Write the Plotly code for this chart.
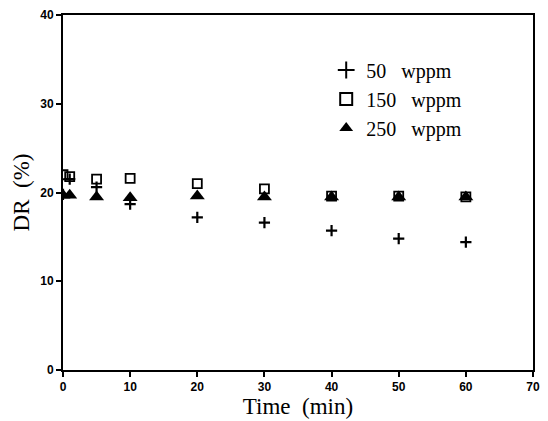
import plotly.graph_objects as go

# Drag reduction vs. time for three polymer concentrations
time_min = [0, 1, 5, 10, 20, 30, 40, 50, 60]
dr_50 = [19.8, 21.5, 20.6, 18.7, 17.2, 16.6, 15.7, 14.8, 14.4]
dr_150 = [22.0, 21.8, 21.5, 21.6, 21.0, 20.4, 19.6, 19.6, 19.5]
dr_250 = [19.7, 19.7, 19.5, 19.4, 19.6, 19.5, 19.5, 19.5, 19.5]

labels = ["50\u00a0\u00a0\u00a0wppm", "150\u00a0\u00a0\u00a0wppm", "250\u00a0\u00a0\u00a0wppm"]

x_ticks = [0, 10, 20, 30, 40, 50, 60, 70]
y_ticks = [0, 10, 20, 30, 40]

fig = go.Figure()
fig.add_trace(go.Scatter(
    x=time_min, y=dr_50, mode="markers", name=labels[0],
    marker=dict(symbol="cross-thin", size=8, color="black",
                line=dict(width=2.2, color="black")),
))
fig.add_trace(go.Scatter(
    x=time_min, y=dr_150, mode="markers", name=labels[1],
    marker=dict(symbol="square-open", size=9, color="black",
                line=dict(width=1.8, color="black")),
))
fig.add_trace(go.Scatter(
    x=time_min, y=dr_250, mode="markers", name=labels[2],
    marker=dict(symbol="triangle-up", size=13, color="black",
                line=dict(width=0)),
))

axis_common = dict(
    showline=True, linecolor="black", linewidth=2, mirror=True,
    ticks="outside", ticklen=5, tickwidth=2, tickcolor="black",
    showgrid=False, zeroline=False,
    tickfont=dict(family="Liberation Sans", size=12, color="black", weight="bold"),
)

title_font = dict(family="Liberation Serif", size=23, color="black", weight="normal")

fig.update_layout(
    width=548, height=421,
    margin=dict(l=63, r=8, t=12, b=51),
    paper_bgcolor="white", plot_bgcolor="white",
    xaxis=dict(range=[0, 70], tickvals=x_ticks, **axis_common,
               title=dict(text="Time\u00a0\u00a0(min)", standoff=2, font=title_font)),
    yaxis=dict(range=[0, 40], tickvals=y_ticks, **axis_common,
               title=dict(text="DR\u00a0\u00a0(%)", standoff=4, font=title_font)),
    legend=dict(x=0.56, y=0.9, xanchor="left", yanchor="top",
                bgcolor="rgba(0,0,0,0)", borderwidth=0,
                font=dict(family="Liberation Serif", size=20, color="black", weight="normal"),
                itemsizing="constant", tracegroupgap=0),
    showlegend=True,
)

fig.write_html("out.html")
